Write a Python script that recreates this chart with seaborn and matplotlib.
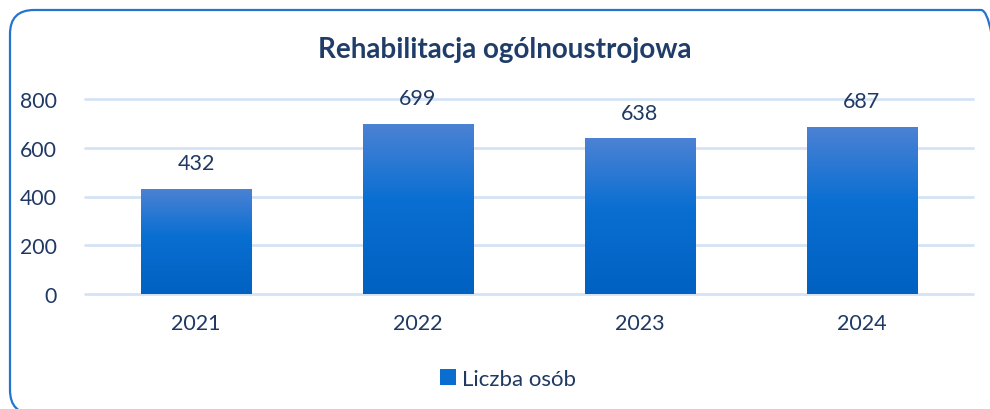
import numpy as np
import pandas as pd
import matplotlib
import matplotlib.pyplot as plt
import seaborn as sns
from matplotlib.colors import LinearSegmentedColormap
from matplotlib.patches import FancyBboxPatch, Patch
from matplotlib.transforms import IdentityTransform

years = ['2021', '2022', '2023', '2024']
values = [432, 699, 638, 687]
title = 'Rehabilitacja ogólnoustrojowa'
series_name = 'Liczba osób'
yticks = [0, 200, 400, 600, 800]

text_color = '#1F3864'
grid_color = '#D5E3F4'
border_color = '#2474CF'

sns.set_theme(style='white')
plt.rcParams['font.family'] = ['Lato', 'DejaVu Sans']

fig = plt.figure(figsize=(9.9, 4.1), dpi=100)
ax = fig.add_axes([85 / 990, 1 - 295 / 410, 888 / 990, 195 / 410])

df = pd.DataFrame({'year': years, 'value': values})
sns.barplot(data=df, x='year', y='value', color='#0A6ED1', width=0.5,
            ax=ax, zorder=3)

ax.set_ylim(0, 800)
ax.set_xlim(-0.5, 3.5)
ax.set_yticks(yticks)
ax.yaxis.grid(True, color=grid_color, linewidth=2, zorder=0)
for gl in ax.get_ygridlines():
    gl.set_clip_on(False)
for s in ax.spines.values():
    s.set_visible(False)
ax.set_xlabel('')
ax.set_ylabel('')
ax.tick_params(axis='y', length=0, pad=20, labelsize=15.3, labelcolor=text_color)
ax.tick_params(axis='x', length=0, pad=14, labelsize=15.5, labelcolor=text_color)

# gradient fill per bar
cmap = LinearSegmentedColormap.from_list(
    'bar', [(0, '#0061C1'), (0.55, '#0A6FD2'), (1, '#4C82D4')])
grad = np.linspace(0, 1, 256).reshape(-1, 1)
for p in ax.patches:
    x0, y0 = p.get_x(), p.get_y()
    w, h = p.get_width(), p.get_height()
    p.set_facecolor('none')
    p.set_edgecolor('none')
    im = ax.imshow(grad, cmap=cmap, origin='lower', aspect='auto',
                   extent=[x0, x0 + w, y0, y0 + h], zorder=3)
    im.set_clip_path(p)
    ax.text(x0 + w / 2, y0 + h + 104, f'{h:.0f}', ha='center', va='center',
            fontsize=15.5, color=text_color)
ax.set_xlim(-0.5, 3.5)
ax.set_ylim(0, 800)

fig.text(504.5 / 990, 1 - 50 / 410, title, ha='center', va='center',
         fontsize=20, fontweight='bold', color='#1F3D68')

handle = Patch(facecolor='#0A6ED1', edgecolor='none')
fig.legend([handle], [series_name], loc='center', bbox_to_anchor=(0.513, 1 - 380 / 410),
           frameon=False, fontsize=16, labelcolor=text_color,
           handlelength=0.72, handleheight=0.72, handletextpad=0.25)

border = FancyBboxPatch((10, -5), 995, 404, boxstyle='round,pad=0,rounding_size=24',
                        transform=IdentityTransform(), facecolor='none',
                        edgecolor=border_color, linewidth=1.6)
fig.patches.append(border)

fig.savefig('out.png', dpi=100, facecolor='white')
